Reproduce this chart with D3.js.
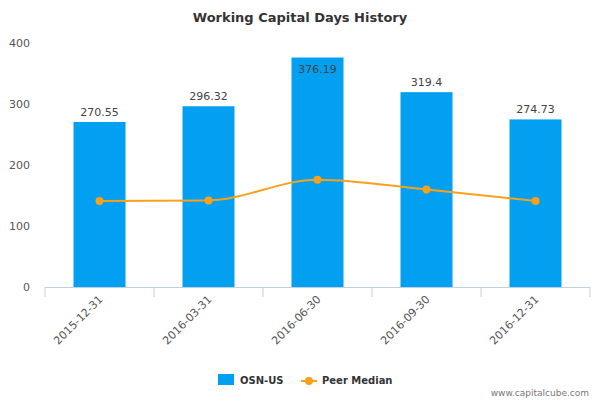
<!DOCTYPE html>
<html><head><meta charset="utf-8">
<script src="https://cdn.jsdelivr.net/npm/d3@7"></script>
<style>body{margin:0;background:#fff}text{font-family:"DejaVu Sans",sans-serif}</style>
</head><body>
<script>
const dates = ['2015-12-31', '2016-03-31', '2016-06-30', '2016-09-30', '2016-12-31']
const osnValues = [270.55, 296.32, 376.19, 319.4, 274.73]
const osnLabels = ['270.55', '296.32', '376.19', '319.4', '274.73']
const peerMedian = [141, 142, 176, 160, 141]
const yTicks = [0, 100, 200, 300, 400]

const W = 600, H = 400
const svg = d3.select('body').append('svg').attr('width', W).attr('height', H)
const x = d3.scaleBand().domain(dates).range([45, 590])
const y = d3.scaleLinear().domain([0, 400]).range([287, 43])

svg.append('text').attr('x', 300).attr('y', 22).attr('text-anchor', 'middle')
  .attr('font-size', 13).attr('font-weight', 'bold').attr('fill', '#333').text('Working Capital Days History')

// y tick labels
svg.selectAll('.yt').data(yTicks).enter().append('text')
  .attr('x', 30).attr('y', d => y(d) + 4).attr('text-anchor', 'end')
  .attr('font-size', 11).attr('fill', '#555').text(d => d)

// x axis
svg.append('line').attr('x1', 45).attr('x2', 590).attr('y1', 287.5).attr('y2', 287.5).attr('stroke', '#c0d0e0')
svg.selectAll('.xt').data(d3.range(dates.length + 1)).enter().append('line')
  .attr('x1', i => 45 + i * x.step()).attr('x2', i => 45 + i * x.step())
  .attr('y1', 287).attr('y2', 297).attr('stroke', '#c0d0e0')
svg.selectAll('.xl').data(dates).enter().append('text')
  .attr('transform', d => `translate(${x(d) + x.bandwidth() / 2 + 4},300) rotate(-45)`)
  .attr('text-anchor', 'end').attr('font-size', 11).attr('fill', '#555').text(d => d)

// bars
const bw = 52
svg.selectAll('.bar').data(dates).enter().append('rect')
  .attr('x', d => x(d) + x.bandwidth() / 2 - bw / 2).attr('width', bw)
  .attr('y', (d, i) => y(osnValues[i])).attr('height', (d, i) => y(0) - y(osnValues[i]))
  .attr('fill', '#039ff0')
svg.selectAll('.bl').data(dates).enter().append('text')
  .attr('x', d => x(d) + x.bandwidth() / 2)
  .attr('y', (d, i) => osnValues[i] > 360 ? y(osnValues[i]) + 15 : y(osnValues[i]) - 6)
  .attr('text-anchor', 'middle').attr('font-size', 11).attr('fill', '#444')
  .text((d, i) => osnLabels[i])

// peer median line
const line = d3.line().x((d, i) => x(dates[i]) + x.bandwidth() / 2).y(d => y(d)).curve(d3.curveMonotoneX)
svg.append('path').datum(peerMedian).attr('d', line).attr('fill', 'none').attr('stroke', '#f9a11b').attr('stroke-width', 2)
svg.selectAll('.pt').data(peerMedian).enter().append('circle')
  .attr('cx', (d, i) => x(dates[i]) + x.bandwidth() / 2).attr('cy', d => y(d)).attr('r', 4).attr('fill', '#f9a11b')

// legend
svg.append('rect').attr('x', 218).attr('y', 374).attr('width', 16).attr('height', 11).attr('fill', '#039ff0')
svg.append('text').attr('x', 240).attr('y', 384).attr('font-size', 10).attr('font-weight', 'bold').attr('fill', '#333').text('OSN-US')
svg.append('line').attr('x1', 301).attr('x2', 317).attr('y1', 381).attr('y2', 381).attr('stroke', '#f9a11b').attr('stroke-width', 2)
svg.append('circle').attr('cx', 309).attr('cy', 381).attr('r', 4).attr('fill', '#f9a11b')
svg.append('text').attr('x', 322).attr('y', 384).attr('font-size', 10).attr('font-weight', 'bold').attr('fill', '#333').text('Peer Median')
svg.append('text').attr('x', 589).attr('y', 396).attr('text-anchor', 'end').attr('font-size', 9).attr('fill', '#777').text('www.capitalcube.com')
</script>
</body></html>
